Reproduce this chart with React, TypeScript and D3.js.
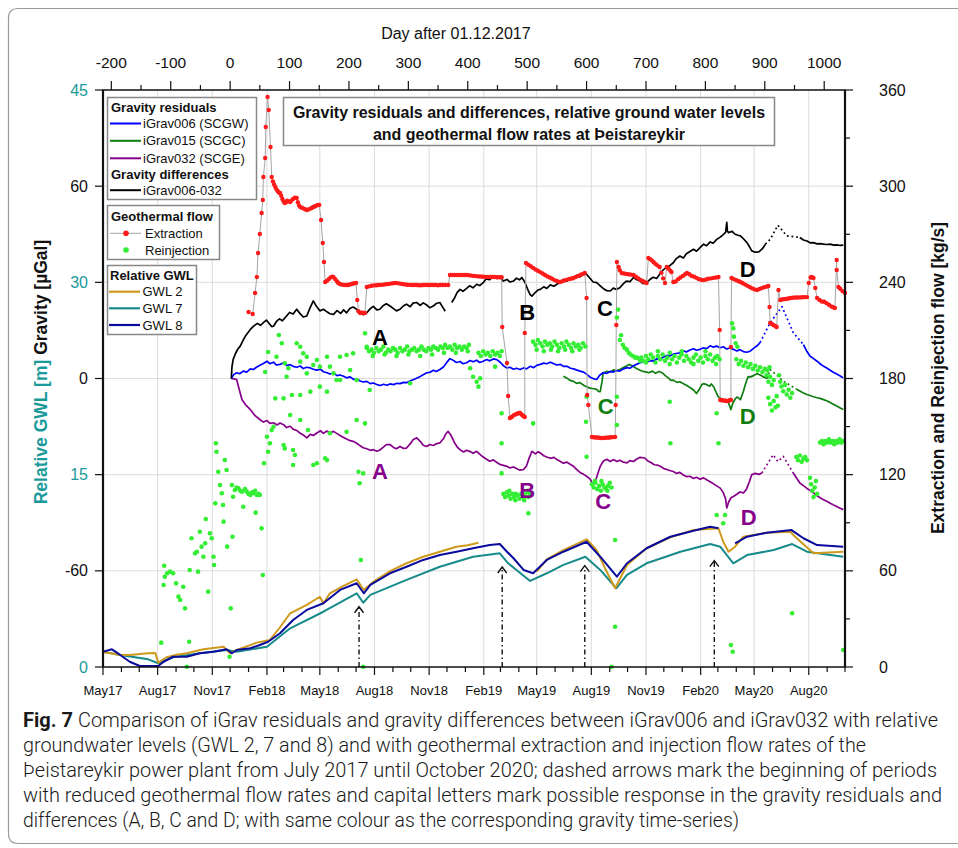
import React from 'react';
import * as d3 from 'd3';

type Pt = [number, number] | null;

const W = 958;
const H = 848;
const FRAME = { left: 103, right: 845, top: 90, bottom: 667 };
const FONT = '"Liberation Sans", Arial, Helvetica, sans-serif';

// x values: day after 01.12.2017
const dayDomain: [number, number] = [-214, 1035];
const dayTicks = d3.range(-200, 1001, 100);
const dayMinorTicks = d3.range(-150, 1001, 100);
const monthLabels = ['May17', 'Aug17', 'Nov17', 'Feb18', 'May18', 'Aug18', 'Nov18', 'Feb19', 'May19', 'Aug19', 'Nov19', 'Feb20', 'May20', 'Aug20'];

const gravityTicks = [-60, 0, 60];
const gwlTicks = [0, 15, 30, 45];
const flowTicks = [0, 60, 120, 180, 240, 300, 360];
const flowMinorTicks = [30, 90, 150, 210, 270, 330];

// Relative ground water levels [m]
const gwl2: Pt[] = [
  [-214, 1.17], [-185, 0.94], [-169, 0.94], [-138, 1.07], [-126, 1.09], [-121, 0.34], [-107, 0.76], [-90, 0.95], [-73, 1.07],
  [-45, 1.38], [-11, 1.58], [0, 1.07], [11, 1.33], [45, 1.9], [67, 2.11], [84, 3.1], [101, 4.19], [129, 4.84], [151, 5.48],
  [157, 4.97], [168, 5.75], [190, 6.3], [213, 6.84], [225, 6.01], [241, 6.65], [270, 7.5], [297, 8.09], [325, 8.6], [353, 8.99],
  [381, 9.38], [400, 9.5], [418, 9.69], null,
  [516, 7.43], [533, 8.4], [560, 9.1], [600, 9.96], [617, 9.12], [632, 7.6], [648, 6.14], [668, 7.96], [701, 9.26], [740, 10.1],
  [780, 10.68], [822, 10.82], [830, 9.77], [839, 8.99], [850, 9.38], [864, 10.16], [903, 10.47], [943, 10.55], [951, 10.16],
  [982, 8.87], [1032, 8.99],
];
const gwl7: Pt[] = [
  [-214, 1.19], [-185, 0.94], [-138, 0.6], [-121, 0.29], [-96, 0.76], [-51, 1.07], [-6, 1.33], [11, 1.19], [62, 1.58],
  [101, 3.02], [157, 4.31], [213, 5.75], [224, 5.01], [236, 5.62], [297, 6.79], [353, 7.82], [409, 8.6], [454, 8.87],
  [468, 8.09], [505, 6.71], [533, 7.31], [561, 7.96], [598, 8.6], [623, 7.57], [650, 6.14], [668, 7.18], [701, 8.09],
  [758, 8.99], [808, 9.59], [825, 9.38], [847, 8.09], [870, 8.73], [915, 9.12], [946, 9.59], [971, 8.99], [1032, 8.6],
];
const gwl8: Pt[] = [
  [-214, 1.19], [-199, 1.38], [-185, 0.94], [-169, 0.41], [-152, 0.08], [-135, 0.08], [-121, 0.08], [-112, 0.41], [-96, 0.8],
  [-73, 0.8], [-51, 1.07], [-28, 1.19], [-6, 1.38], [3, 1.07], [11, 1.33], [34, 1.46], [50, 1.72], [64, 1.97], [84, 2.63],
  [106, 3.67], [129, 4.45], [157, 4.97], [185, 6.01], [213, 6.53], [225, 5.75], [236, 6.4], [269, 7.31], [297, 7.82],
  [325, 8.35], [353, 8.73], [381, 8.99], [409, 9.26], [437, 9.51], [454, 9.59], [466, 8.99], [477, 8.48], [494, 7.57],
  [510, 7.31], [533, 8.35], [561, 8.99], [600, 9.77], [623, 8.6], [651, 7.04], [668, 8.09], [701, 9.26], [741, 10.16],
  [780, 10.63], [808, 10.94], [822, 10.82], null,
  [850, 9.65], [870, 10.16], [903, 10.47], [945, 10.68], [965, 10.04], [988, 9.51], [1032, 9.38],
];

// Gravity residuals and differences [µGal]
const igrav006: Pt[] = [
  [2, 0], [6, 1.2], [11, 1.8], [16, 1.5], [22, 2.3], [28, 2.0], [34, 3.0], [39, 2.8], [45, 3.6], [51, 4.2], [56, 4.7],
  [62, 5.4], [67, 4.6], [73, 5.1], [78, 4.2], [84, 4.4], [90, 4.9], [95, 4.1], [101, 4.3], [106, 3.8], [112, 3.5],
  [118, 3.9], [123, 3.1], [129, 3.5], [135, 3.3], [140, 2.9], [146, 2.6], [152, 2.9], [157, 2.1], [163, 1.8], [168, 1.4],
  [174, 1.7], [180, 0.9], [185, 1.1], [191, 0.7], [196, 0.2], [202, 0.5], [208, -0.3], [213, -0.1], [219, -0.8],
  [224, -1.1], [230, -0.9], [236, -1.6], [241, -1.4], [247, -1.9], [253, -2.2], [258, -1.8], [264, -2.1], [269, -1.7],
  [275, -1.9], [281, -1.5], [286, -1.6], [292, -1.2], [297, -1.3], [303, -0.8], [308, -0.4], [314, 0.1], [320, 0.6],
  [325, 1.2], [331, 1.8], [336, 1.9], [342, 2.6], [347, 2.2], [353, 2.8], [359, 3.6], [365, 5.1], [370, 6.2], [376, 5.6],
  [381, 5.0], [387, 5.3], [392, 4.6], [398, 4.9], [404, 5.6], [409, 5.2], [415, 5.7], [420, 5.0], [426, 5.4], [432, 5.9],
  [437, 5.5], [443, 6.1], [449, 5.9], [455, 5.0], [460, 4.0], [466, 3.3], [471, 3.5], [477, 2.9], [482, 3.2], [488, 2.8],
  [494, 3.3], [499, 3.0], [505, 3.8], [511, 3.4], [516, 4.1], [522, 4.4], [528, 4.8], [533, 4.6], [539, 5.1], [545, 4.6],
  [550, 4.2], [556, 4.4], [561, 3.8], [567, 3.8], [573, 3.2], [578, 3.0], [584, 2.6], [589, 2.3], [595, 2.0], [601, 1.2],
  [606, 0.4], [612, -0.1], [617, -0.3], [622, 1.0], [628, 1.8], [634, 1.6], [640, 2.2], [645, 2.0], [651, 2.5], [656, 2.3],
  [662, 3.0], [668, 3.4], [673, 3.2], [679, 4.0], [684, 4.4], [690, 4.9], [696, 5.2], [701, 5.0], [707, 5.6], [712, 5.4],
  [718, 6.1], [723, 5.9], [729, 6.6], [735, 7.2], [740, 7.0], [746, 7.6], [751, 7.8], [757, 8.0], [763, 8.6], [768, 8.3],
  [774, 8.9], [780, 9.3], [785, 8.8], [791, 9.1], [797, 9.6], [802, 9.3], [808, 10.2], [813, 9.8], [819, 10.1], [825, 9.6],
  [830, 9.9], [836, 9.2], [841, 9.5], [847, 9.1], [853, 8.6], [858, 9.0], [864, 8.4], [870, 8.2], [876, 8.6], [881, 9.4],
  [887, 10.2], [892, 11.2],
];
const igrav006Dotted: Pt[] = [[892, 11.2], [909, 17.4], [929, 22.4], [948, 14.3], [965, 10.6]];
const igrav006Tail: Pt[] = [
  [965, 10.6], [971, 8.4], [976, 7.0], [982, 6.2], [988, 5.4], [993, 4.6], [999, 3.8], [1005, 3.2], [1010, 2.6],
  [1016, 1.9], [1021, 1.4], [1027, 0.8], [1032, 0.2],
];

const igrav015: Pt[] = [
  [561, 0.7], [567, 0.1], [572, -0.6], [578, -0.9], [583, -1.5], [589, -1.3], [595, -2.1], [600, -2.6], [606, -3.0],
  [612, -3.2], [617, -3.4], [620, -4.0], [623, -4.1], [626, -1.0], [628, 1.8], [634, 2.2], [640, 2.0], [645, 2.7],
  [651, 2.4], [656, 2.8], [662, 3.4], [667, 3.9], [672, 4.4], [678, 3.8], [684, 3.1], [690, 2.6], [695, 2.2], [701, 2.0],
  [705, 1.8], [711, 2.3], [716, 1.6], [722, 2.2], [727, 1.8], [733, 0.8], [738, 0.1], [742, -0.6], [746, -0.5], [752, -1.2],
  [757, -1.0], [763, -1.6], [768, -2.1], [774, -2.8], [780, -3.6], [785, -4.7], [790, -3.3], [794, -1.9], [797, -1.6],
  [802, -1.9], [807, -2.4], [810, -1.7], [814, -2.6], [818, -4.3], [822, -5.8], [828, -6.4], [833, -7.0], [839, -7.6],
  [843, -9.7], [846, -7.8], [850, -6.4], [853, -5.8], [856, -6.1], [859, -6.6], [864, -4.0], [868, -1.4], [872, 0.6],
  [876, 0.5], [881, 0.9], [887, 1.5], [893, 1.0], [898, 0.5], [904, 0.0],
];
const igrav015Dotted: Pt[] = [[904, 0.0], [909, 2.8], [931, -0.8], [954, -3.4]];
const igrav015Tail: Pt[] = [
  [954, -3.4], [959, -3.9], [965, -4.5], [971, -5.0], [976, -5.3], [982, -5.7], [988, -6.0], [993, -6.2], [999, -6.6],
  [1005, -7.0], [1010, -7.5], [1016, -8.1], [1021, -8.6], [1027, -9.2], [1032, -9.7],
];

const igrav032: Pt[] = [
  [2, 0], [6, -0.1], [11, -0.3], [15, -3.2], [20, -6.6], [27, -8.4], [34, -9.7], [42, -11.6], [50, -12.8], [56, -13.6],
  [62, -13.1], [67, -14.0], [73, -13.8], [79, -14.5], [84, -13.9], [90, -14.4], [95, -15.3], [101, -14.9], [106, -15.8],
  [112, -16.2], [118, -17.1], [123, -17.6], [129, -18.5], [135, -17.4], [140, -17.8], [146, -17.0], [152, -16.3],
  [157, -17.1], [163, -16.4], [168, -17.0], [174, -16.5], [180, -17.2], [185, -17.8], [191, -18.4], [196, -18.9],
  [202, -19.4], [207, -19.6], [213, -20.2], [219, -21.0], [224, -21.6], [230, -21.9], [236, -22.4], [241, -22.2],
  [247, -22.7], [252, -22.3], [258, -21.4], [263, -20.6], [269, -20.6], [275, -21.5], [280, -21.9], [286, -21.2],
  [292, -21.8], [297, -21.7], [303, -20.4], [308, -19.1], [314, -18.5], [320, -19.6], [325, -20.8], [331, -21.2],
  [336, -20.6], [342, -20.9], [348, -20.3], [353, -20.1], [359, -18.8], [363, -17.3], [367, -16.5], [372, -17.8],
  [377, -19.8], [382, -21.3], [387, -22.2], [393, -22.9], [398, -22.4], [404, -22.8], [409, -23.3], [415, -22.7],
  [420, -23.6], [426, -24.5], [431, -25.1], [437, -25.8], [443, -25.4], [449, -26.2], [454, -26.8], [460, -27.1],
  [466, -27.4], [471, -27.9], [477, -27.6], [482, -28.1], [488, -28.6], [494, -28.4], [499, -27.2], [503, -25.0],
  [508, -22.7], [514, -23.5], [518, -22.9], [522, -23.2], [528, -24.1], [533, -24.5], [539, -24.9], [545, -24.6],
  [550, -25.3], [556, -25.9], [561, -26.4], [567, -26.1], [573, -26.8], [578, -27.4], [584, -28.5], [589, -29.3],
  [595, -29.9], [600, -30.5], [606, -31.4], [610, -32.8], [614, -32.6], [618, -30.2], [623, -27.4], [628, -25.8],
  [634, -25.2], [640, -25.9], [645, -25.3], [651, -25.9], [656, -25.5], [662, -26.1], [668, -26.3], [673, -25.6],
  [679, -25.9], [684, -25.2], [690, -24.6], [698, -24.8], [703, -25.7], [709, -26.3], [714, -26.9], [719, -27.0],
  [724, -27.4], [730, -28.1], [735, -28.4], [740, -28.7], [746, -29.0], [751, -29.6], [757, -29.3], [763, -30.1],
  [768, -30.6], [774, -30.5], [780, -31.2], [785, -30.8], [791, -31.4], [797, -31.0], [802, -31.6], [808, -32.2],
  [813, -32.8], [819, -33.5], [825, -34.2], [830, -35.6], [834, -37.5], [836, -40.4], [839, -38.6], [843, -37.2],
  [847, -36.8], [853, -36.1], [858, -35.4], [864, -35.7], [869, -34.6], [874, -32.2], [878, -30.0], [884, -29.6],
  [890, -29.9], [895, -29.5],
];
const igrav032Dotted: Pt[] = [[895, -29.5], [914, -23.8], [922, -25.9], [931, -24.3], [948, -29.5]];
const igrav032Tail: Pt[] = [
  [948, -29.5], [954, -31.2], [959, -32.6], [965, -33.4], [971, -34.3], [976, -34.9], [982, -35.7], [988, -36.6],
  [993, -37.2], [999, -37.8], [1005, -38.4], [1010, -38.9], [1015, -39.4], [1021, -39.9], [1027, -40.5], [1032, -40.9],
];

const igravDiff: Pt[] = [
  [2, 0], [3, 3.5], [5, 5.9], [9, 7.8], [13, 9.2], [17, 10.1], [22, 12], [27, 13.6], [34, 15.3], [40, 16.4], [46, 17.2],
  [51, 16.6], [56, 17.4], [61, 18.2], [66, 17.1], [70, 16.2], [73, 16.3], [78, 17.8], [83, 18.6], [88, 18], [95, 19.5],
  [100, 20.6], [106, 20.1], [112, 21.6], [117, 20.4], [123, 19.2], [129, 19.5], [134, 21.8], [140, 24.2], [145, 22.6],
  [151, 21.1], [157, 21.6], [163, 20.8], [168, 20.2], [174, 20.0], [180, 21.2], [186, 20.3], [191, 21.4], [196, 20.5],
  [202, 21.9], [207, 22.3], [213, 21.6], [219, 20.6], [224, 19.9], [230, 20.5], [236, 21.8], [241, 22.5], [247, 21.4],
  [252, 21.6], [258, 22.8], [263, 23.3], [269, 22.6], [275, 21.8], [280, 21.1], [286, 21.6], [292, 22.7], [297, 23.2],
  [303, 22.4], [308, 23.5], [314, 23.7], [320, 22.8], [325, 23.6], [331, 22.9], [336, 22.1], [342, 22.6], [347, 23.4],
  [353, 23.7], [358, 22.2], [362, 21.0], null,
  [373, 23.7], [378, 25.2], [382, 26.8], [387, 27.8], [392, 27.2], [398, 28.1], [403, 28.9], [409, 28.3], [415, 29.4],
  [420, 29], [426, 29.9], [431, 31.1], [437, 30.8], [443, 32.0], [449, 31.2], [454, 31.6], [460, 30.4], [466, 30.9],
  [471, 30.1], [477, 30.4], [482, 31.3], [487, 30.8], [491, 31.5], [496, 30.1], [502, 27.3], [505, 26.2], [508, 25.7],
  [514, 26.9], [518, 27.6], [522, 27.8], [528, 28.6], [533, 28.1], [539, 29.2], [545, 28.8], [550, 29.4], [556, 30.2],
  [561, 30.9], [567, 30.4], [572, 31.3], [578, 31.5], [584, 32.2], [589, 31.7], [595, 32.6], [600, 32.5], [606, 31.2],
  [611, 30.1], [617, 29.9], [623, 28.9], [628, 28.1], [634, 27.4], [640, 27.3], [645, 28.2], [650, 27.8], [656, 28.3],
  [662, 29.6], [667, 30.4], [673, 30.2], [679, 31.5], [684, 30.9], [690, 30.4], [695, 29.6], [701, 29.9], [706, 30.8],
  [712, 31.6], [718, 31.2], [723, 32.5], [729, 33.9], [734, 34.6], [740, 35.2], [746, 36.1], [751, 37.4], [757, 38.2],
  [763, 37.6], [768, 38.9], [774, 39.6], [780, 40.3], [785, 39.7], [791, 40.8], [797, 41.9], [802, 41.4], [808, 42.6],
  [813, 42.2], [819, 43.4], [825, 44.1], [830, 44.9], [834, 45.6], [836, 48.7], [837, 46], [839, 45.5], [845, 45.9],
  [850, 45], [855, 44.7], [859, 44.5], [864, 43.6], [870, 42.4], [874, 41.2], [878, 39.8], [884, 39.4], [890, 39.5],
  [896, 40.5], [901, 41.9],
];
const igravDiffDotted: Pt[] = [[901, 41.9], [909, 43.4], [922, 47.8], [937, 44.5], [959, 44.0]];
const igravDiffTail: Pt[] = [
  [959, 44.0], [965, 43.2], [971, 42.9], [977, 42.3], [982, 42.4], [988, 42.0], [993, 42.1], [999, 41.9], [1005, 41.8],
  [1010, 41.9], [1016, 41.6], [1021, 41.7], [1027, 41.5], [1032, 41.6],
];

// Geothermal flow [kg/s]
const extraction: [number, number][] = [
  [31, 221.5], [38, 220.2], [42, 233.3], [45, 243.3], [47, 258.3], [50, 270.2], [53, 283.3], [55, 291.4], [56, 305.7],
  [59, 317.6], [60, 336.9], [63, 355.6], [65, 347.5], [68, 324.4],
  [70, 305.7], [72, 303], [74, 301], [76, 299.5], [78, 298], [80, 297], [82, 296], [84, 295.7], [86, 294], [88, 292],
  [90, 290.5], [92, 289.5], [94, 290], [96, 291], [98, 290.5], [101, 290.1], [103, 291], [106, 292], [109, 292.8],
  [112, 292.6], [114, 290], [116, 288], [118, 287], [121, 286.5], [124, 286], [127, 285.5], [129, 285.1], [132, 285.5],
  [135, 286], [138, 286.5], [140, 287], [143, 287.5], [146, 288], [148, 288.3], [150, 288.3],
  [153, 278.9], [156, 264.5], [158, 252.7],
  [160, 240.2], [163, 241], [166, 242], [169, 243], [172, 243.5], [174, 243.3], [177, 242], [180, 240.5], [182, 239.6],
  [185, 239], [188, 238.6], [191, 238.4], [194, 238.3], [197, 238.3], [200, 238.5], [203, 238.8], [206, 239.1],
  [209, 239.4], [212, 239.6],
  [214, 229], [216, 222], [219, 220.9], [221, 221], [223, 221], [225, 220.8], [227, 220.9],
  [230, 237.1], [234, 237.5], [238, 237.9], [242, 238.1], [246, 238.2], [250, 238.3], [254, 238.4], [258, 238.6],
  [262, 238.8], [266, 239], [270, 239.2], [274, 239.4], [278, 239.6], [282, 239.5], [286, 239.2], [290, 239], [294, 238.7],
  [298, 238.5], [302, 238.4], [306, 238.3], [310, 238.3], [314, 238.3], [318, 238.2], [322, 238.2], [326, 238.3],
  [330, 238.3], [334, 238.3], [338, 238.3], [342, 238.3], [346, 238.3], [350, 238.2], [354, 238.3], [358, 238.3],
  [362, 238.3], [367, 238.3],
  [370, 244.6], [374, 244.6], [378, 244.6], [382, 244.6], [386, 244.6], [390, 244.6], [394, 244.6], [398, 244.6],
  [402, 244.4], [406, 244.2], [410, 244], [414, 243.9], [418, 243.7], [422, 243.6], [426, 243.5], [430, 243.4],
  [434, 243.4], [438, 243.3], [442, 243.3], [446, 243.3], [450, 243.2], [454, 243.2], [457, 243.2],
  [458, 212.1], [466, 189.7], [468, 169.1],
  [471, 155.4], [474, 156], [477, 157], [480, 157.5], [483, 158], [486, 158.5], [488, 158.5], [490, 157.8], [492, 157],
  [494, 156.5], [496, 156],
  [496, 208.4],
  [498, 252.1], [502, 251], [506, 250], [510, 249], [514, 248], [518, 247.2], [522, 246.4], [526, 245.5], [530, 244.6],
  [534, 243.7], [538, 243], [542, 242.2], [546, 241.4], [550, 240.8], [555, 240.2], [559, 240.6], [563, 241.2],
  [567, 241.7], [571, 242.1], [575, 242.4], [578, 242.7], [582, 243.4], [586, 244], [590, 244.7], [594, 245.3], [597, 245.8],
  [600, 230.2], [601, 169.7], [603, 163.5],
  [609, 143.5], [612, 143.3], [615, 143.2], [618, 143.2], [621, 143], [624, 142.9], [628, 142.9], [632, 143], [635, 143.1],
  [638, 143.2], [641, 143.3], [644, 143.4], [648, 143.5],
  [649, 163.5], [650, 213.4],
  [651, 252.7], [654, 249.6], [656, 247.5], [659, 245.8], [663, 245.5], [667, 245.2], [671, 245], [675, 244.8], [679, 244.6],
  [683, 243.5], [687, 242.5], [691, 241.5], [695, 240.7], [698, 240.1], [701, 239.6],
  [704, 255.2], [707, 254.5], [710, 253.7], [713, 252.5], [716, 251.5], [719, 250.6], [723, 249.6], [726, 246],
  [729, 242.5], [732, 239.6],
  [735, 249.6], [738, 248.5], [741, 247.2], [743, 246.4],
  [746, 240.2], [750, 240.5], [754, 242], [758, 243], [762, 244], [766, 245], [769, 245.8], [773, 245], [777, 244],
  [781, 243.5], [785, 242.8], [789, 242], [793, 241.6], [797, 241.4], [801, 241.8], [805, 242.2], [810, 242.5],
  [814, 242.8], [818, 243], [822, 243.3],
  [824, 210.3],
  [825, 166.6], [828, 166.4], [831, 166.3], [834, 166.1], [836, 166], [839, 166.2], [841, 166.4], [843, 166.6],
  [843, 199.7],
  [844, 242.7], [848, 242], [852, 241.3], [856, 240.7], [859, 240.2], [863, 239.4], [867, 238.6], [871, 237.8], [875, 237],
  [879, 236.2], [883, 235.6], [887, 235.2], [891, 235.8], [895, 236.4], [899, 236.9], [903, 237.3], [906, 237.7],
  [908, 224.6], [909, 214.6], [912, 214], [915, 213.3], [918, 212.6], [920, 212.1],
  [923, 235.2], [926, 229], [929, 229.3], [932, 229.5], [935, 229.6], [938, 229.8], [941, 230], [943, 230.2], [947, 230.4],
  [951, 230.5], [955, 230.5], [959, 230.6], [963, 230.7], [967, 230.8], [971, 230.8],
  [974, 239.6], [977, 243], [979, 243.3], [982, 242.7], [985, 236.5], [988, 230.2], [992, 229], [996, 228], [1000, 227.9],
  [1004, 227], [1008, 226], [1012, 225], [1015, 224.5], [1018, 224],
  [1021, 253.9], [1021, 247.7], [1024, 237.1], [1027, 236], [1031, 234.5], [1035, 233.3],
];

const reinjection: [number, number][] = [
  [-116, 15.2], [-112, 51.2], [-110, 56.3], [-106, 58.5], [-101, 59.5], [-96, 58.5], [-111, 63.2], [-91, 52.2], [-87, 43.9],
  [-84, 41.8], [-79, 50.1], [-76, 36.6], [-73, 0.2], [-69, 15.8], [-68, 60.5], [-65, 80.3], [-59, 70.9], [-56, 71.9],
  [-54, 59.5], [-51, 84.4], [-48, 75.1], [-45, 68.8], [-42, 77.2], [-41, 92.3], [-37, 47], [-34, 83.4], [-31, 80.3],
  [-28, 68.8], [-27, 63.6], [-25, 102.1], [-24, 139.6], [-23, 134.3], [-20, 121.8], [-17, 113.5], [-14, 108.4],
  [-12, 101.1], [-11, 90.7], [-9, 129.1], [-6, 122.9], [-5, 75.1], [-1, 6.4], [1, 36.6], [3, 113.5], [4, 81.3],
  [5, 106.2], [8, 110.4], [11, 112], [14, 111.5], [17, 110], [20, 109.4], [22, 100], [25, 111], [28, 109.4], [31, 108],
  [34, 107.3], [37, 109], [39, 108.4], [42, 110], [45, 107.3], [48, 108], [50, 107.3], [43, 96.3], [53, 86.5], [55, 57.4],
  [57, 127.1], [62, 143.7], [64, 134.3], [67, 139.6], [70, 147.9], [73, 149.9], [90, 138.5], [92, 136.4], [106, 135.4],
  [109, 132.3], [106, 126], [140, 126], [146, 127.1], [160, 130.2], [163, 129.1], [168, 145.8], [196, 146.8],
  [216, 121.8], [218, 114.6], [224, 120.8], [220, 66.8], [227, 152], [224, 0.2], [213, 154.1],
  [82, 207.1], [87, 202], [78, 193.6], [92, 189.5], [98, 186.4], [95, 181.1], [112, 202], [118, 199.8], [123, 195.7],
  [129, 193.6], [129, 183.2], [118, 190.5], [140, 188.4], [146, 191.5], [151, 187.4], [163, 193.6], [168, 187.4],
  [174, 183.2], [179, 179.1], [185, 193.6], [196, 194.7], [207, 195.7], [227, 208.2], [230, 199.8], [235, 172.8],
  [104, 169.7], [90, 167.6], [76, 167.6], [135, 171.8], [118, 169.7], [151, 174.9], [163, 171.8], [185, 179.1],
  [202, 185.3], [213, 179.1], [303, 177], [64, 196.5], [59, 184.1], [101, 157.2], [118, 154.1], [131, 147.9],
  [230, 199], [234, 197], [238, 198], [242, 196], [246, 199], [250, 197], [254, 198], [258, 200], [262, 196], [266, 198],
  [270, 197], [274, 199], [278, 198], [282, 196], [286, 199], [290, 197], [294, 198], [298, 200], [302, 197], [306, 198],
  [310, 199], [314, 197], [318, 198], [322, 200], [326, 198], [330, 197], [334, 199], [338, 198], [342, 200], [346, 199],
  [350, 198], [354, 200], [358, 199], [362, 201], [366, 199], [370, 200], [374, 198], [378, 201], [382, 199], [386, 200],
  [390, 198], [394, 200], [398, 199], [402, 201], [240, 194], [260, 195], [280, 194], [300, 195], [320, 194], [340, 195],
  [360, 196], [380, 196], [400, 197],
  [418, 196], [422, 194], [426, 197], [430, 195], [434, 196], [438, 194], [442, 197], [446, 195], [450, 196], [454, 194], [457, 197],
  [460, 108], [463, 106], [466, 109], [469, 107], [472, 105], [475, 108], [478, 106], [481, 108], [484, 107], [487, 105],
  [490, 108], [493, 106], [496, 107], [499, 109], [502, 106], [505, 108], [470, 110], [480, 104], [495, 104], [500, 110],
  [510, 203], [514, 201], [518, 204], [522, 202], [526, 200], [530, 203], [534, 201], [538, 202], [542, 200], [546, 203],
  [550, 201], [554, 199], [558, 202], [562, 200], [566, 203], [570, 201], [574, 199], [578, 202], [582, 200], [586, 201],
  [590, 199], [594, 202], [598, 200], [516, 198], [528, 197], [540, 198], [552, 197], [564, 198], [576, 197], [588, 198],
  [609, 114], [612, 112], [615, 115], [618, 111], [621, 113], [624, 110], [627, 114], [630, 112], [633, 111], [636, 113],
  [639, 115], [642, 112], [614, 116], [625, 116], [635, 110],
  [653, 223], [651, 218], [656, 204], [658, 207], [661, 201], [664, 199], [668, 198], [671, 196], [674, 195], [678, 194],
  [682, 193], [685, 193], [690, 191],
  [692, 193], [696, 191], [700, 194], [704, 192], [708, 195], [712, 193], [716, 190], [720, 194], [724, 192], [728, 195],
  [732, 191], [736, 193], [740, 196], [744, 192], [748, 194], [752, 190], [756, 193], [760, 195], [764, 191], [768, 194],
  [772, 192], [776, 190], [780, 193], [784, 195], [788, 191], [792, 193], [796, 190], [800, 194], [804, 192], [808, 195],
  [812, 191], [816, 193], [820, 194], [824, 192], [700, 190], [720, 197], [740, 189], [760, 197], [780, 189], [800, 197],
  [818, 189],
  [845, 214.4], [847, 211.3], [848, 206.1], [851, 202], [854, 199.8],
  [852, 192], [856, 189], [860, 191], [864, 188], [868, 190], [872, 187], [876, 189], [880, 186], [884, 188], [888, 185],
  [892, 187], [896, 184], [900, 186], [904, 185], [908, 187],
  [903, 182], [906, 178], [909, 181], [912, 176], [915, 179], [906, 168], [909, 164], [912, 160], [915, 166], [918, 162],
  [920, 169], [922, 163], [924, 182], [926, 178], [928, 175], [931, 172], [934, 176], [937, 170], [940, 173], [943, 168],
  [946, 171],
  [953, 131], [956, 129], [959, 132], [962, 128], [965, 130], [968, 131], [971, 129],
  [976, 118], [978, 114], [980, 110], [982, 106], [984, 112], [986, 116], [988, 108],
  [993, 140], [996, 141], [999, 139], [1002, 141], [1005, 140], [1008, 142], [1011, 140], [1014, 141], [1017, 139],
  [1020, 141], [1023, 140], [1026, 142], [1029, 140], [1032, 141],
  [404, 186.4], [409, 181.1], [415, 178], [418, 174.9], [421, 180.1], [446, 187.4], [457, 158.3], [457, 139.6],
  [457, 120.8], [502, 95.9], [510, 152], [600, 168.6], [599, 153], [600, 131.2], [651, 168.6], [651, 151], [648, 79.2],
  [648, 25.1], [642, 0.2], [946, 33.5], [843, 13.7], [846, 9.5], [1032, 10.6], [819, 94.8], [833, 94.8], [822, 139.6],
  [741, 139.6], [830, 89.7], [740, 165.5], [819, 158.3],
];

// Start of periods with reduced flow: day, GWL level of the arrow tip [m]
const arrowDays = [217, 458, 597, 815];
const arrowTips = [4.7, 7.8, 7.9, 8.3];

// Response letters: label, day, gravity value [µGal], series
const letters: [string, number, number, string][] = [
  ['A', 252, 13.1, 'diff'], ['B', 500, 20.9, 'diff'], ['C', 631, 21.9, 'diff'], ['D', 871, 34.1, 'diff'],
  ['C', 632, -8.7, 'g015'], ['D', 871, -11.8, 'g015'],
  ['A', 252, -29.0, 'g032'], ['B', 500, -34.7, 'g032'], ['C', 628, -38.3, 'g032'], ['D', 873, -43.3, 'g032'],
];

const COLORS: Record<string, string> = {
  g006: '#0000ff',
  g015: '#0f7d0f',
  g032: '#86008a',
  diff: '#000000',
  gwl2: '#cf9a1c',
  gwl7: '#178b8b',
  gwl8: '#0a0a9c',
  extraction: '#ff1a1a',
  reinjection: '#33ee33',
  teal: '#1a9a9a',
};

const captionLines = [
  'Comparison of iGrav residuals and gravity differences between iGrav006 and iGrav032 with relative',
  'groundwater levels (GWL 2, 7 and 8) and with geothermal extraction and injection flow rates of the',
  'Þeistareykir power plant from July 2017 until October 2020; dashed arrows mark the beginning of periods',
  'with reduced geothermal flow rates and capital letters mark possible response in the gravity residuals and',
  'differences (A, B, C and D; with same colour as the corresponding gravity time-series)',
];
const captionWidths = [915, 843, 914, 919, 716];

const dayOfMonth = (i: number) => (Date.UTC(2017, 4 + i, 1) - Date.UTC(2017, 11, 1)) / 864e5;

export default function App() {
  const x = d3.scaleLinear().domain(dayDomain).range([FRAME.left, FRAME.right]);
  const yG = d3.scaleLinear().domain([-90, 90]).range([FRAME.bottom, FRAME.top]);
  const yW = d3.scaleLinear().domain([0, 45]).range([FRAME.bottom, FRAME.top]);
  const yF = d3.scaleLinear().domain([0, 360]).range([FRAME.bottom, FRAME.top]);

  const lineOf = (ys: d3.ScaleLinear<number, number>) =>
    d3.line<Pt>().defined((d) => d !== null).x((d) => x((d as [number, number])[0])).y((d) => ys((d as [number, number])[1]));
  const gLine = lineOf(yG);
  const wLine = lineOf(yW);
  const fLine = d3.line<[number, number]>().x((d) => x(d[0])).y((d) => yF(d[1]));

  const months = d3.range(0, 42).map((i) => ({ i, day: dayOfMonth(i) }));
  const majorMonths = months.filter((m) => m.i % 3 === 0);

  const gravitySeries: [string, Pt[], Pt[], Pt[]][] = [
    ['g032', igrav032, igrav032Dotted, igrav032Tail],
    ['g015', igrav015, igrav015Dotted, igrav015Tail],
    ['g006', igrav006, igrav006Dotted, igrav006Tail],
    ['diff', igravDiff, igravDiffDotted, igravDiffTail],
  ];

  return (
    <div style={{ position: 'absolute', left: 0, top: 0, width: W, height: H, background: '#fff' }}>
      <svg width={W} height={H} viewBox={`0 0 ${W} ${H}`} style={{ display: 'block', fontFamily: FONT }}>
        <rect x={0} y={0} width={W} height={H} fill="#fff" />
        {/* figure border */}
        <path d={`M 990 8.5 L 18 8.5 Q 8.5 8.5 8.5 18 L 8.5 834 Q 8.5 843.5 18 843.5 L 990 843.5`} fill="none" stroke="#9a9a9a" strokeWidth={1.2} />

        {/* grid */}
        <g stroke="#dcdcdc" strokeWidth={1}>
          {majorMonths.map((m) => (
            <line key={`gv${m.i}`} x1={x(m.day)} x2={x(m.day)} y1={FRAME.top} y2={FRAME.bottom} />
          ))}
          {flowTicks.slice(1, -1).map((t) => (
            <line key={`gh${t}`} x1={FRAME.left} x2={FRAME.right} y1={yF(t)} y2={yF(t)} />
          ))}
        </g>

        {/* ground water levels */}
        <g fill="none" strokeWidth={2} strokeLinejoin="round">
          <path d={wLine(gwl7) || ''} stroke={COLORS.gwl7} />
          <path d={wLine(gwl2) || ''} stroke={COLORS.gwl2} />
          <path d={wLine(gwl8) || ''} stroke={COLORS.gwl8} />
        </g>

        {/* dashed arrows */}
        <g stroke="#111" strokeWidth={1.4} fill="none">
          {arrowDays.map((d, i) => {
            const ax = x(d);
            const ty = yW(arrowTips[i]);
            return (
              <g key={`ar${i}`}>
                <line x1={ax} x2={ax} y1={FRAME.bottom} y2={ty + 1} strokeDasharray="5,3,1.5,3" />
                <path d={`M ${ax - 4.5} ${ty + 6} L ${ax} ${ty} L ${ax + 4.5} ${ty + 6}`} />
              </g>
            );
          })}
        </g>

        {/* gravity residuals and differences */}
        <g fill="none" strokeWidth={1.7} strokeLinejoin="round">
          {gravitySeries.map(([key, solid, dotted, tail]) => (
            <g key={key} stroke={COLORS[key]}>
              <path d={gLine(solid) || ''} />
              <path d={gLine(dotted) || ''} strokeDasharray="1.8,2.8" />
              <path d={gLine(tail) || ''} />
            </g>
          ))}
        </g>

        {/* geothermal flow */}
        <path d={fLine(extraction) || ''} fill="none" stroke="#a6a6a6" strokeWidth={1} />
        <g fill={COLORS.reinjection}>
          {reinjection.map((d, i) => (
            <circle key={`ri${i}`} cx={x(d[0])} cy={yF(d[1])} r={2.3} />
          ))}
        </g>
        <g fill={COLORS.extraction}>
          {extraction.map((d, i) => (
            <circle key={`ex${i}`} cx={x(d[0])} cy={yF(d[1])} r={2.2} />
          ))}
        </g>

        {/* response letters */}
        <g fontWeight="bold" fontSize={22} textAnchor="middle">
          {letters.map(([t, d, v, key], i) => (
            <text key={`lt${i}`} x={x(d)} y={yG(v) + 8} fill={COLORS[key]}>
              {t}
            </text>
          ))}
        </g>

        {/* frame */}
        <rect x={FRAME.left} y={FRAME.top} width={FRAME.right - FRAME.left} height={FRAME.bottom - FRAME.top} fill="none" stroke="#111" strokeWidth={1.5} />
        <line x1={FRAME.left} x2={FRAME.left} y1={FRAME.top} y2={FRAME.bottom} stroke="#111" strokeWidth={2.2} />
        <line x1={FRAME.right} x2={FRAME.right} y1={FRAME.top} y2={FRAME.bottom} stroke="#111" strokeWidth={2.2} />

        {/* top axis: day after 01.12.2017 */}
        <g stroke="#111" strokeWidth={1.2}>
          {dayTicks.map((t) => (
            <line key={`dt${t}`} x1={x(t)} x2={x(t)} y1={FRAME.top} y2={FRAME.top - 9} />
          ))}
          {dayMinorTicks.map((t) => (
            <line key={`dm${t}`} x1={x(t)} x2={x(t)} y1={FRAME.top} y2={FRAME.top - 5} />
          ))}
        </g>
        <g fontSize={15.5} textAnchor="middle" fill="#111">
          {dayTicks.map((t) => (
            <text key={`dl${t}`} x={x(t)} y={68}>
              {t}
            </text>
          ))}
          <text x={x(380)} y={39} fontSize={16}>
            Day after 01.12.2017
          </text>
        </g>

        {/* bottom axis: months */}
        <g stroke="#111" strokeWidth={1.2}>
          {months.map((m) => (
            <line key={`mt${m.i}`} x1={x(m.day)} x2={x(m.day)} y1={FRAME.bottom} y2={FRAME.bottom + (m.i % 3 === 0 ? 8 : 5)} />
          ))}
        </g>
        <g fontSize={13} textAnchor="middle" fill="#111">
          {majorMonths.map((m, k) => (
            <text key={`ml${m.i}`} x={x(m.day)} y={695}>
              {monthLabels[k]}
            </text>
          ))}
        </g>

        {/* left axes: gravity and relative GWL */}
        <g stroke="#111" strokeWidth={1.2}>
          {flowTicks.map((t) => (
            <line key={`lt${t}`} x1={FRAME.left - 8} x2={FRAME.left} y1={yF(t)} y2={yF(t)} />
          ))}
        </g>
        <g fontSize={16} textAnchor="end">
          {gwlTicks.map((t) => (
            <text key={`wl${t}`} x={88} y={yW(t) + 5.5} fill={COLORS.teal}>
              {t}
            </text>
          ))}
          {gravityTicks.map((t) => (
            <text key={`gl${t}`} x={88} y={yG(t) + 5.5} fill="#111">
              {t}
            </text>
          ))}
        </g>
        <text transform={`translate(47, 372) rotate(-90)`} textAnchor="middle" fontSize={17.5} fontWeight="bold">
          <tspan fill={COLORS.teal}>Relative GWL [m]</tspan>
          <tspan fill="#111"> Gravity [µGal]</tspan>
        </text>

        {/* right axis: flow */}
        <g stroke="#111" strokeWidth={1.2}>
          {flowTicks.map((t) => (
            <line key={`rt${t}`} x1={FRAME.right} x2={FRAME.right + 8} y1={yF(t)} y2={yF(t)} />
          ))}
          {flowMinorTicks.map((t) => (
            <line key={`rm${t}`} x1={FRAME.right} x2={FRAME.right + 5} y1={yF(t)} y2={yF(t)} />
          ))}
        </g>
        <g fontSize={16} textAnchor="start" fill="#111">
          {flowTicks.map((t) => (
            <text key={`rl${t}`} x={879} y={yF(t) + 5.5}>
              {t}
            </text>
          ))}
        </g>
        <text transform={`translate(944, 378) rotate(-90)`} textAnchor="middle" fontSize={17.5} fontWeight="bold" fill="#111">
          Extraction and Reinjection flow [kg/s]
        </text>

        {/* title box */}
        <rect x={283.5} y={97.5} width={491} height={48} fill="#fff" stroke="#888" strokeWidth={1.5} />
        <g fontSize={16} fontWeight="bold" textAnchor="middle" fill="#111">
          <text x={529} y={117.5}>Gravity residuals and differences, relative ground water levels</text>
          <text x={529} y={140}>and geothermal flow rates at Þeistareykir</text>
        </g>

        {/* legends */}
        <g fontSize={13} fill="#111">
          <rect x={107.5} y={97.5} width={149} height={102} fill="#fff" stroke="#888" strokeWidth={1.5} />
          <text x={111} y={112} fontWeight="bold">Gravity residuals</text>
          {[
            ['g006', 'iGrav006 (SCGW)', 123.5],
            ['g015', 'iGrav015 (SCGC)', 140.8],
            ['g032', 'iGrav032 (SCGE)', 158.3],
          ].map(([k, label, cy]) => (
            <g key={k as string}>
              <line x1={110} x2={141} y1={cy as number} y2={cy as number} stroke={COLORS[k as string]} strokeWidth={2} />
              <text x={143} y={(cy as number) + 4.6}>{label}</text>
            </g>
          ))}
          <text x={111} y={178.6} fontWeight="bold">Gravity differences</text>
          <line x1={110} x2={141} y1={190.2} y2={190.2} stroke="#000" strokeWidth={2} />
          <text x={143} y={194.8}>iGrav006-032</text>

          <rect x={107.5} y={205.5} width={112} height={54} fill="#fff" stroke="#888" strokeWidth={1.5} />
          <text x={111} y={221.3} fontWeight="bold">Geothermal flow</text>
          <line x1={110} x2={141} y1={233.3} y2={233.3} stroke="#a6a6a6" strokeWidth={1} />
          <circle cx={126} cy={233.3} r={2.8} fill={COLORS.extraction} />
          <text x={145} y={237.9}>Extraction</text>
          <circle cx={126} cy={250} r={2.8} fill={COLORS.reinjection} />
          <text x={145} y={254.6}>Reinjection</text>

          <rect x={107.5} y={265.5} width={89} height={69} fill="#fff" stroke="#888" strokeWidth={1.5} />
          <text x={110} y={279.6} fontWeight="bold">Relative GWL</text>
          {[
            ['gwl2', 'GWL 2', 291.7],
            ['gwl7', 'GWL 7', 308.3],
            ['gwl8', 'GWL 8', 325],
          ].map(([k, label, cy]) => (
            <g key={k as string}>
              <line x1={109} x2={140} y1={cy as number} y2={cy as number} stroke={COLORS[k as string]} strokeWidth={2.2} />
              <text x={142.5} y={(cy as number) + 4.6}>{label}</text>
            </g>
          ))}
        </g>

        {/* caption */}
        <g fontFamily={'Roboto, "Liberation Sans", sans-serif'} fontWeight={300} fontSize={19.5} fill="#1a1a1a">
          {captionLines.map((line, i) => (
            <text key={`cap${i}`} x={23} y={727 + i * 25} textLength={captionWidths[i]} lengthAdjust="spacingAndGlyphs">
              {i === 0 ? (
                <>
                  <tspan fontWeight="bold">Fig. 7</tspan>
                  <tspan>{'  ' + line}</tspan>
                </>
              ) : (
                line
              )}
            </text>
          ))}
        </g>
      </svg>
    </div>
  );
}
